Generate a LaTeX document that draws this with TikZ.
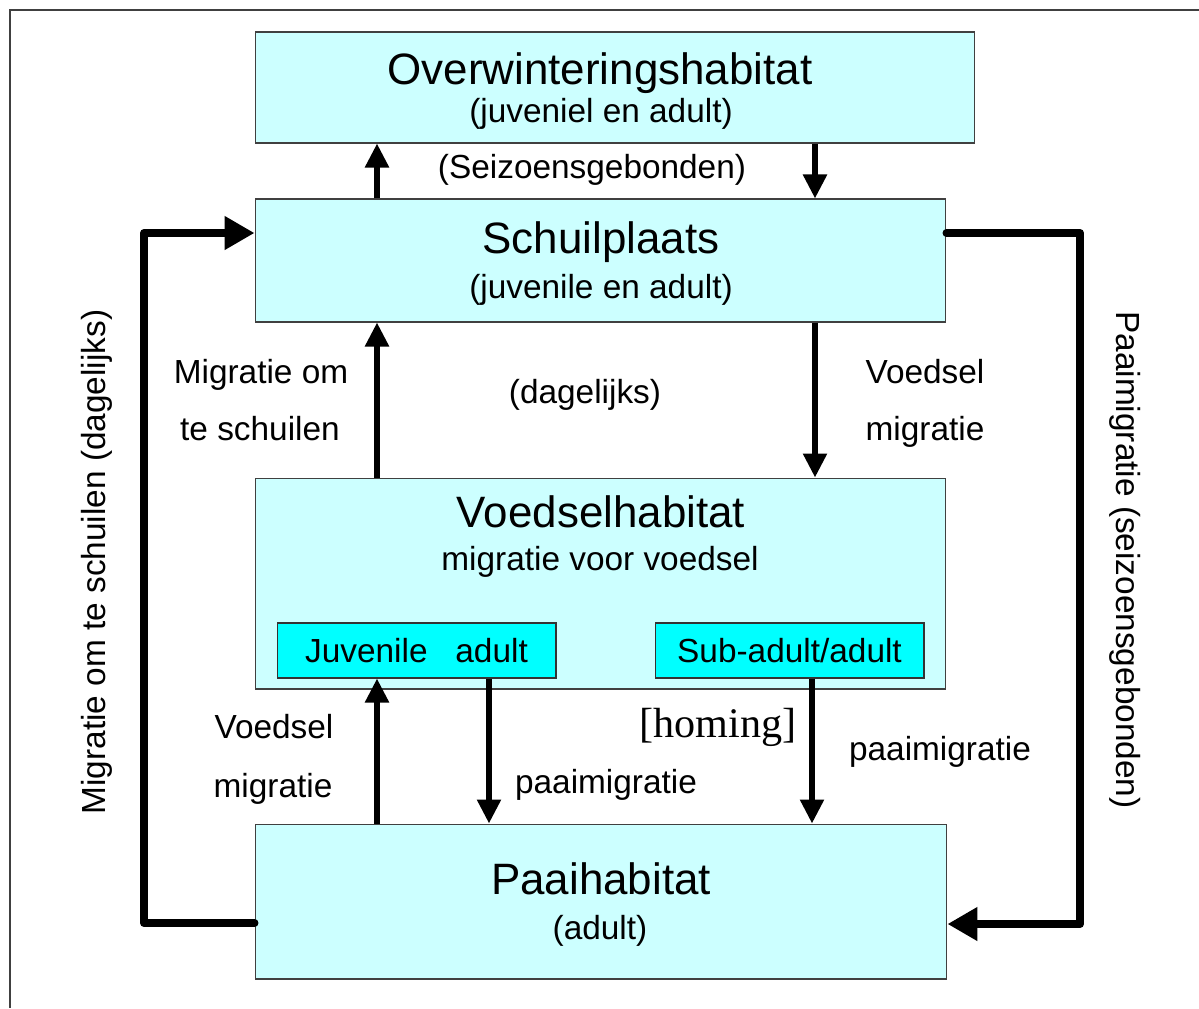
\documentclass[tikz,border=0pt]{standalone}
\usepackage{fontspec}
\setmainfont{Liberation Sans}
\newfontfamily\homingfont{Liberation Serif}
\usetikzlibrary{arrows.meta, calc}
\definecolor{habfill}{HTML}{CCFFFF}
\definecolor{stagefill}{HTML}{00FFFF}

\begin{document}
\begin{tikzpicture}[x=0.02cm, y=-0.02cm,
        habitat/.style={draw=black!75, line width=0.6pt, fill=habfill, inner sep=0pt},
        stage/.style={draw=black!80, line width=0.6pt, fill=stagefill, inner sep=0pt, minimum height=1.1cm,
            font=\fontsize{19}{23}\selectfont},
        title/.style={inner sep=0pt, font=\fontsize{25}{30}\selectfont, text height=18.5pt, text depth=6pt},
        lbl/.style={inner sep=0pt, font=\fontsize{19}{23}\selectfont, text height=14pt, text depth=4.5pt},
        flow/.style={line width=3.1pt, -{Triangle[length=0.48cm, width=0.46cm]}},
        loop/.style={line width=4.5pt, line join=round, line cap=round, -{Triangle[length=0.6cm, width=0.64cm]}},
        frame/.style={draw=black!75, line width=0.8pt}
    ]
        \useasboundingbox (0,0) rectangle (1199,1008);
        \draw[frame] (1199,10) -- (10,10) -- (10,1008);

        % habitats
        \node[habitat, minimum width=14.4cm, minimum height=2.22cm] (overw) at (615,87.5) {};
        \node[habitat, minimum width=13.82cm, minimum height=2.46cm] (schuil) at (600.5,260.5) {};
        \node[habitat, minimum width=13.82cm, minimum height=4.22cm] (voedsel) at (600.5,583.5) {};
        \node[habitat, minimum width=13.84cm, minimum height=3.1cm] (paai) at (601,901.5) {};

        \node[stage, minimum width=5.58cm] (juv) at (416.5,650.5) {Juvenile\ \ \ adult};
        \node[stage, minimum width=5.38cm] (sub) at (789.5,650.5) {Sub-adult/adult};

        % texts in the boxes
        \node[title] at (600,74) {Overwinteringshabitat};
        \node[lbl] at (601,114) {(juveniel en adult)};
        \node[title] at (601,243) {Schuilplaats};
        \node[lbl] at (601,290) {(juvenile en adult)};
        \node[title] at (601,517) {Voedselhabitat};
        \node[lbl] at (600,562) {migratie voor voedsel};
        \node[title] at (601,884) {Paaihabitat};
        \node[lbl] at (600,931) {(adult)};

        % labels between the boxes
        \node[lbl] at (592,170) {(Seizoensgebonden)};
        \node[lbl] at (261,375) {Migratie om};
        \node[lbl] at (260,432) {te schuilen};
        \node[lbl] at (585,395) {(dagelijks)};
        \node[lbl] at (925,375) {Voedsel};
        \node[lbl] at (925,432) {migratie};
        \node[lbl] at (274,730) {Voedsel};
        \node[lbl] at (273,789) {migratie};
        \node[inner sep=0pt, font=\homingfont\fontsize{24}{28}\selectfont] at (718,727) {[homing]};
        \node[lbl] at (606,785) {paaimigratie};
        \node[lbl] at (940,752) {paaimigratie};
        \node[lbl, rotate=90] at (97,562) {Migratie om te schuilen (dagelijks)};
        \node[lbl, rotate=-90] at (1125,560) {Paaimigratie (seizoensgebonden)};

        % columns and bends
        \coordinate (c1) at (377,0);
        \coordinate (c2) at (815,0);
        \coordinate (c3) at (489,0);
        \coordinate (c4) at (812,0);
        \coordinate (ltop) at (144,233);
        \coordinate (lbend) at (144,923);
        \coordinate (rtop) at (1080,233);
        \coordinate (rbend) at (1080,924);

        \draw[flow] (schuil.north -| c1) -- (overw.south -| c1);
        \draw[flow] (overw.south -| c2) -- (schuil.north -| c2);
        \draw[flow] (voedsel.north -| c1) -- (schuil.south -| c1);
        \draw[flow] (schuil.south -| c2) -- (voedsel.north -| c2);
        \draw[flow] (paai.north -| c1) -- (juv.south -| c1);
        \draw[flow] (juv.south -| c3) -- (paai.north -| c3);
        \draw[flow] (sub.south -| c4) -- (paai.north -| c4);

        \draw[loop] (paai.west |- lbend) -- (lbend) -- (ltop) -- (schuil.west |- ltop);
        \draw[loop] (schuil.east |- rtop) -- (rtop) -- (rbend) -- (paai.east |- rbend);
    \end{tikzpicture}
\end{document}
